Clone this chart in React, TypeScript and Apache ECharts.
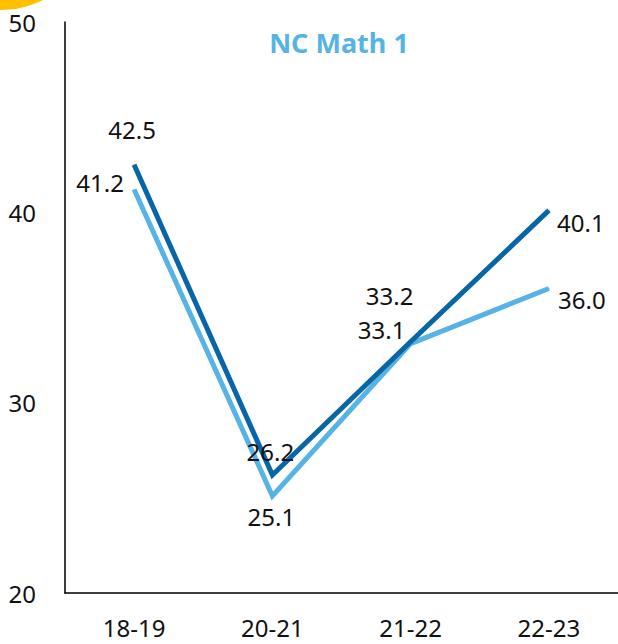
import React, { useEffect, useRef } from "react";
import * as echarts from "echarts";

const categories = ["18-19", "20-21", "21-22", "22-23"];
const darkValues = [42.5, 26.2, 33.2, 40.1];
const lightValues = [41.2, 25.1, 33.1, 36.0];
const yTicks = { min: 20, max: 50, interval: 10 };
const titleText = "NC Math 1";

const darkOffsets: [number, number][] = [[-2, -35], [-2, -23], [-21, -46], [32, 12]];
const lightOffsets: [number, number][] = [[-34, -7], [-1, 21], [-29, -14], [33, 11]];

const DARK = "#0865A6";
const LIGHT = "#56B3E4";
const FONT = "Noto Sans";

function makeData(values: number[], offsets: [number, number][]) {
  return values.map((v, i) => ({
    value: v,
    label: { offset: offsets[i] },
  }));
}

export default function App() {
  const ref = useRef<HTMLDivElement>(null);
  useEffect(() => {
    if (!ref.current) return;
    const chart = echarts.init(ref.current, undefined, { renderer: "svg" });
    const labelBase = {
      show: true,
      position: "inside" as const,
      align: "center",
      verticalAlign: "middle",
      color: "#111",
      fontFamily: FONT,
      fontSize: 24,
      formatter: (p: any) => Number(p.value).toFixed(1),
    };
    chart.setOption({
      animation: false,
      backgroundColor: "#fff",
      title: {
        text: titleText,
        left: 334,
        top: 24,
        textAlign: "center",
        textStyle: { color: LIGHT, fontFamily: FONT, fontWeight: "bold", fontSize: 27 },
      },
      graphic: [
        {
          type: "circle",
          shape: { cx: 0, cy: -87.5, r: 97.5 },
          style: { fill: "#FFC000" },
          z: 0,
        },
      ],
      grid: { left: 65, top: 22, width: 554, height: 571, containLabel: false },
      xAxis: {
        type: "category",
        data: categories,
        boundaryGap: true,
        axisLine: { lineStyle: { color: "#000", width: 1.5 } },
        axisTick: { show: false },
        axisLabel: { color: "#111", fontFamily: FONT, fontSize: 24, margin: 22 },
        splitLine: { show: false },
      },
      yAxis: {
        type: "value",
        min: yTicks.min,
        max: yTicks.max,
        interval: yTicks.interval,
        axisLine: { show: true, lineStyle: { color: "#000", width: 1.5 } },
        axisTick: { show: false },
        splitLine: { show: false },
        axisLabel: { color: "#111", fontFamily: FONT, fontSize: 24, margin: 29 },
      },
      series: [
        {
          type: "line",
          data: makeData(lightValues, lightOffsets),
          symbol: "circle",
          symbolSize: 1,
          showSymbol: true,
          itemStyle: { color: LIGHT },
          lineStyle: { color: LIGHT, width: 5, cap: "butt", join: "miter" },
          label: labelBase,
          z: 2,
        },
        {
          type: "line",
          data: makeData(darkValues, darkOffsets),
          symbol: "circle",
          symbolSize: 1,
          showSymbol: true,
          itemStyle: { color: DARK },
          lineStyle: { color: DARK, width: 5, cap: "butt", join: "miter" },
          label: labelBase,
          z: 3,
        },
      ],
    });
    return () => chart.dispose();
  }, []);
  return (
    <div
      ref={ref}
      style={{ position: "absolute", left: 0, top: 0, width: 618, height: 644 }}
    />
  );
}
